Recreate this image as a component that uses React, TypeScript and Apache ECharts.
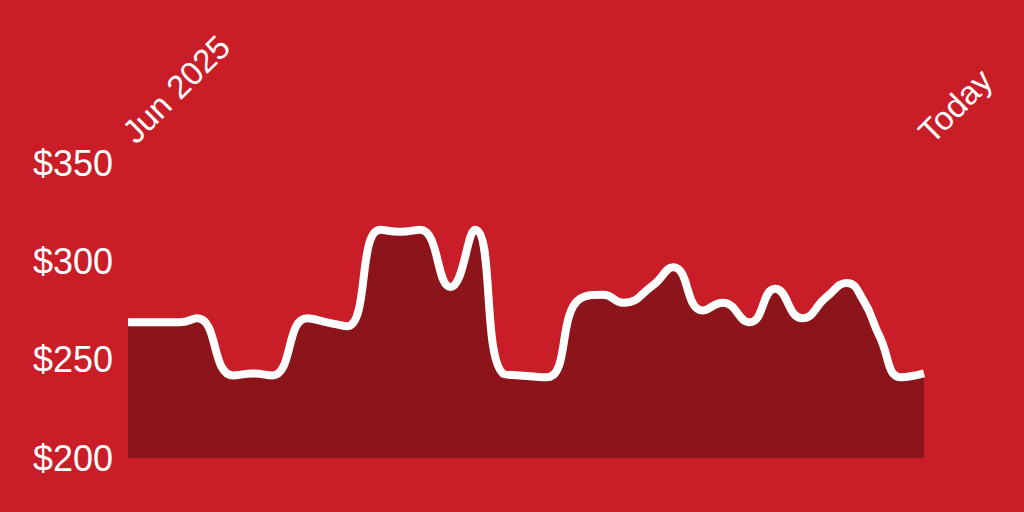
import { useEffect, useRef } from "react";
import * as echarts from "echarts";

// position along the period, 0 = Jun 2025, 100 = today
const timeline = [
  0, 6.5, 8.7, 13.2, 15.7, 18.1, 22.5, 25, 27.5, 31.7, 34.2, 36.7, 40.5, 43.6, 47.1, 49.2,
  52.6, 56.8, 59.7, 62.2, 66, 68.5, 72.2, 74.7, 78.1, 81.3, 84.7, 87.8, 90.3, 92.4, 94.4, 97.2, 100,
];
const prices = [
  269, 269, 271, 242, 243, 242, 271, 269, 267, 316, 315, 316, 287, 316, 243, 242,
  241, 281, 283, 279, 288, 297, 275, 279, 269, 286, 271, 282, 289, 280, 262, 241, 243,
];
const startLabel = "Jun 2025";
const endLabel = "Today";
const priceTicks = [200, 250, 300, 350];

const App = () => {
  const containerRef = useRef<HTMLDivElement>(null);

  useEffect(() => {
    if (!containerRef.current) return;
    const chart = echarts.init(containerRef.current, undefined, { renderer: "svg" });

    chart.setOption({
      animation: false,
      backgroundColor: "#c91d27",
      grid: { left: 128, right: 100, top: 163, bottom: 54 },
      xAxis: {
        type: "value",
        position: "top",
        min: 0,
        max: 100,
        interval: 100,
        axisLine: { show: false },
        axisTick: { show: false },
        splitLine: { show: false },
        axisLabel: {
          rotate: -45,
          margin: 26,
          color: "#ffffff",
          fontSize: 33,
          fontFamily: "Liberation Sans, Arial, sans-serif",
          formatter: (v: number) => (v === 0 ? startLabel : endLabel),
        },
      },
      yAxis: {
        type: "value",
        min: priceTicks[0],
        max: priceTicks[priceTicks.length - 1],
        interval: 50,
        axisLine: { show: false },
        axisTick: { show: false },
        splitLine: { show: false },
        axisLabel: {
          margin: 15,
          color: "#ffffff",
          fontSize: 36,
          fontFamily: "Liberation Sans, Arial, sans-serif",
          formatter: (v: number) => `$${v}`,
        },
      },
      series: [
        {
          type: "line",
          data: timeline.map((t, i) => [t, prices[i]]),
          smooth: 0.5,
          symbol: "none",
          lineStyle: { color: "#ffffff", width: 8 },
          areaStyle: { color: "#8c151c", opacity: 1 },
        },
      ],
    });

    return () => chart.dispose();
  }, []);

  return (
    <div
      ref={containerRef}
      style={{ position: "fixed", top: 0, left: 0, width: 1024, height: 512 }}
    />
  );
};

export default App;
